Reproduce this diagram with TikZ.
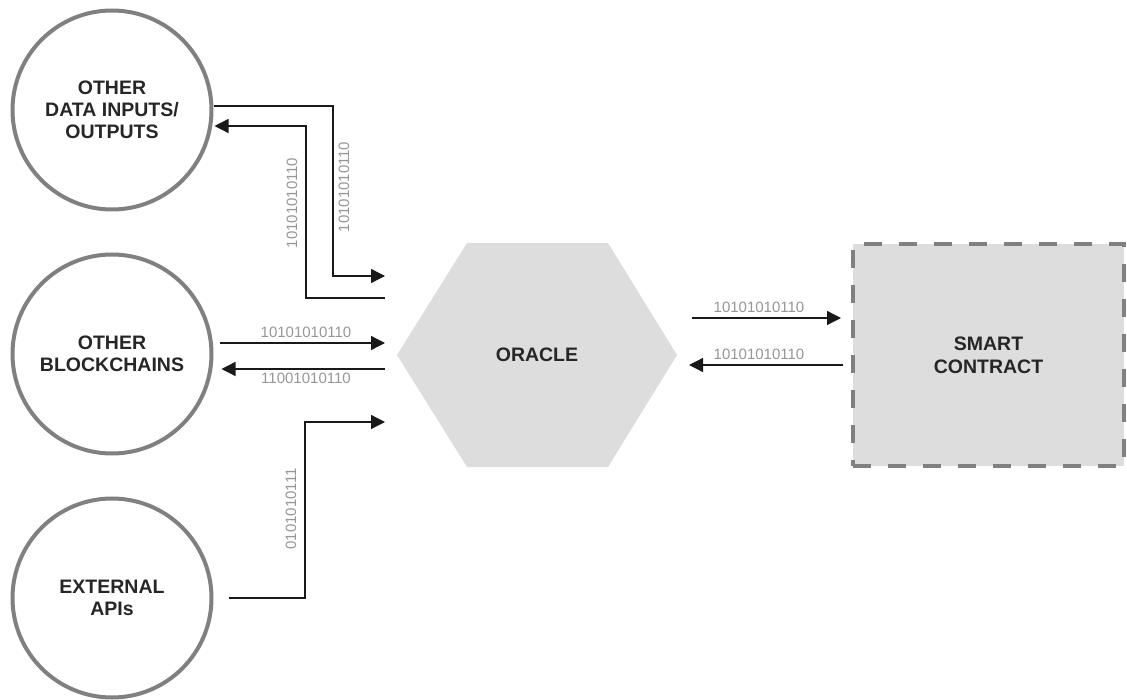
\documentclass[tikz,border=0pt]{standalone}
\usepackage{fontspec}
\setmainfont{Liberation Sans}
\usetikzlibrary{arrows.meta}
\definecolor{ringgray}{RGB}{128,128,128}
\definecolor{panelgray}{RGB}{221,221,221}
\definecolor{bitgray}{RGB}{150,150,150}

\tikzset{
  source/.style={circle, draw=ringgray, line width=4pt, minimum size=199pt,
    align=center, text=black!85, font=\bfseries\fontsize{19.5}{22}\selectfont},
  contractbox/.style={rectangle, draw=ringgray, fill=panelgray, line width=4pt,
    dash pattern=on 18pt off 17pt, minimum width=271pt, minimum height=222pt,
    align=center, text=black!85, font=\bfseries\fontsize{19.5}{23}\selectfont},
  flow/.style={line width=1.3pt, draw=black!90, -{Triangle[length=14pt,width=14pt]}},
  bits/.style={text=bitgray, inner sep=0pt, font=\fontsize{15}{17}\selectfont},
}

\begin{document}
\begin{tikzpicture}[x=1pt,y=-1pt]
            \useasboundingbox (0,0) rectangle (1127,700);
            % sources on the left
            \node[source] (dio) at (112,110) {OTHER\\DATA INPUTS/\\OUTPUTS};
            \node[source] (chains) at (112,354) {OTHER\\BLOCKCHAINS};
            \node[source] (apis) at (112,598) {EXTERNAL\\APIs};
            % oracle
            \fill[panelgray] (467,243) -- (608,243) -- (677,355) -- (608,467) -- (467,467) -- (397,355) -- cycle;
            \node[text=black!85, font=\bfseries\fontsize{19.5}{22}\selectfont] (oracle) at (537,355) {ORACLE};
            % smart contract
            \node[contractbox] (contract) at (988.5,355) {SMART\\CONTRACT};
            % connector ends
            \coordinate (inA) at (385,276);
            \coordinate (outB) at (385,298);
            \coordinate (inC) at (385,343);
            \coordinate (outD) at (385,369);
            \coordinate (inE) at (385,422);
            \coordinate (outF) at (692,318);
            \coordinate (scIn) at (841,318);
            \coordinate (scOut) at (843,365);
            \coordinate (inG) at (689,365);
            % connectors
            \draw[flow] ([yshift=4pt]dio.east) -| (333,276) -- (inA);
            \draw[flow] (outB) -| (306,126) -- ([yshift=-16pt,xshift=1pt]dio.east);
            \draw[flow] ([xshift=6pt,yshift=11pt]chains.east) -- (inC);
            \draw[flow] (outD) -- ([xshift=8pt,yshift=-15pt]chains.east);
            \draw[flow] ([xshift=15pt]apis.east) -| (305,422) -- (inE);
            \draw[flow] (outF) -- (scIn);
            \draw[flow] (scOut) -- (inG);
            % bit labels
            \node[bits, rotate=90] (bitsA) at (344,187) {10101010110};
            \node[bits, rotate=90] (bitsB) at (292,203) {10101010110};
            \node[bits] (bitsC) at (306,332) {10101010110};
            \node[bits] (bitsD) at (306,378) {11001010110};
            \node[bits, rotate=90] (bitsE) at (291,509) {0101010111};
            \node[bits] (bitsF) at (759,307) {10101010110};
            \node[bits] (bitsG) at (759,354) {10101010110};
\end{tikzpicture}
\end{document}
